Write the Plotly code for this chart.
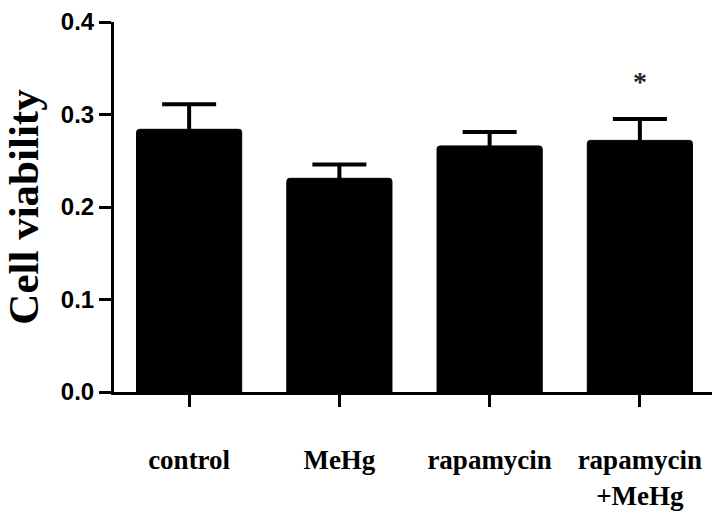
import plotly.graph_objects as go

# Group labels and measured cell viability (mean and upper SEM)
groups = ["control", "MeHg", "rapamycin", "rapamycin<br>+MeHg"]
viability = [0.284, 0.231, 0.266, 0.272]
sem = [0.027, 0.015, 0.015, 0.023]
significance = ["", "", "", "*"]
y_ticks = [0.0, 0.1, 0.2, 0.3, 0.4]
y_tick_text = ["0.0", "0.1", "0.2", "0.3", "0.4"]

positions = list(range(len(groups)))

# Start the whisker slightly inside each bar so its lower cap stays hidden
inset = 0.006

fig = go.Figure()
fig.add_trace(go.Bar(
    x=positions,
    y=viability,
    width=0.70,
    marker=dict(color="#000000", line=dict(color="#000000", width=1), cornerradius=3),
    showlegend=False,
    hoverinfo="skip",
))
fig.add_trace(go.Scatter(
    x=positions,
    y=[v - inset for v in viability],
    mode="markers",
    marker=dict(size=1, color="rgba(0,0,0,0)"),
    error_y=dict(
        type="data",
        symmetric=False,
        array=[e + inset for e in sem],
        arrayminus=[0] * len(sem),
        color="#000000",
        thickness=4,
        width=27,
    ),
    showlegend=False,
    hoverinfo="skip",
))

# Significance markers above the error bars
for xi, v, e, s in zip(positions, viability, sem, significance):
    if s:
        fig.add_annotation(
            x=xi, y=v + e, text=s, showarrow=False,
            yanchor="bottom", yshift=20,
            font=dict(family="Liberation Serif", size=28, color="#222222", weight="bold"),
        )

fig.update_layout(
    width=712,
    height=521,
    margin=dict(l=114, r=0, t=22, b=129),
    paper_bgcolor="white",
    plot_bgcolor="white",
)

fig.update_xaxes(
    range=[-0.5, 3.48],
    tickmode="array",
    tickvals=positions,
    ticktext=groups,
    showline=True,
    linecolor="black",
    linewidth=3,
    ticks="outside",
    ticklen=12,
    tickwidth=3,
    tickcolor="black",
    ticklabelstandoff=30,
    tickfont=dict(family="Liberation Serif", size=27, color="black", weight="bold"),
    showgrid=False,
    zeroline=False,
)

fig.update_yaxes(
    range=[0, 0.4],
    tickmode="array",
    tickvals=y_ticks,
    ticktext=y_tick_text,
    showline=True,
    linecolor="black",
    linewidth=3,
    ticks="outside",
    ticklen=12,
    tickwidth=3,
    tickcolor="black",
    tickfont=dict(family="Liberation Sans", size=24, color="black", weight="bold"),
    title=dict(
        text="Cell viability",
        font=dict(family="Liberation Serif", size=43, color="black", weight="bold"),
        standoff=12,
    ),
    showgrid=False,
    zeroline=False,
)

fig.write_html("out.html")
